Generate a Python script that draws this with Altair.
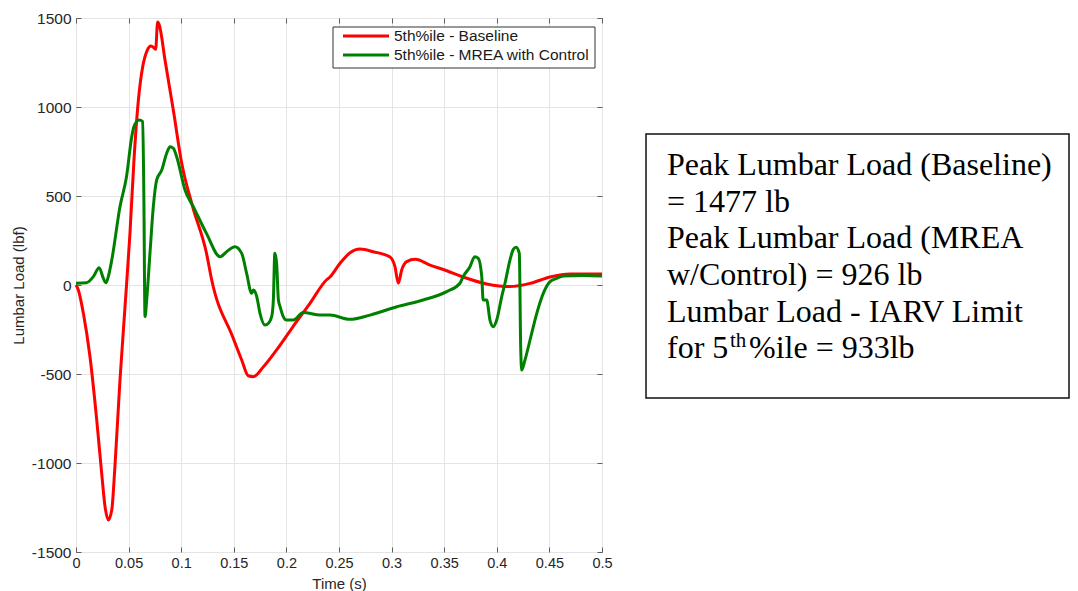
import altair as alt
import pandas as pd

# ---- data ----
base_t = [0, 0.0022, 0.007, 0.0133, 0.0197, 0.0244, 0.0276, 0.0307, 0.034, 0.037, 0.0418,
          0.0466, 0.0513, 0.0551, 0.0593, 0.0634, 0.0678, 0.0713, 0.0745, 0.0757, 0.0776,
          0.0792, 0.0846, 0.0925, 0.1005, 0.111, 0.124, 0.129, 0.149, 0.1575, 0.1637,
          0.1685, 0.178, 0.1907, 0.206, 0.2224, 0.238, 0.2414, 0.251, 0.2605, 0.27, 0.2826,
          0.2985, 0.3032, 0.3064, 0.3096, 0.3143, 0.3225, 0.3365, 0.3524, 0.368, 0.3904,
          0.4125, 0.4316, 0.4506, 0.4696, 0.5]
base_v = [0, -28, -159, -403, -758, -1057, -1245, -1320, -1264, -1020, -534,
          -122, 290, 702, 1039, 1226, 1320, 1343, 1330, 1324, 1477,
          1461, 1264, 983, 684, 438, 180, 28, -292, -421, -510,
          -515, -461, -365, -236, -103, 28, 45, 122, 181, 202, 187,
          157, 103, 10, 84, 131, 144, 112, 80, 45, 6,
          -9, 9, 45, 62, 62]

mrea_t = [0, 0.010, 0.0165, 0.022, 0.026, 0.0285, 0.0307, 0.034, 0.0418, 0.048, 0.053,
          0.0551, 0.060, 0.0634, 0.0645, 0.0656, 0.0672, 0.0703, 0.0735, 0.0767, 0.0815,
          0.0862, 0.0894, 0.0925, 0.0957, 0.1036, 0.1115, 0.124, 0.137, 0.1432, 0.151,
          0.1575, 0.1622, 0.167, 0.1686, 0.1718, 0.1749, 0.1797, 0.1829, 0.186, 0.1876,
          0.189, 0.1907, 0.1924, 0.194, 0.197, 0.200, 0.2066, 0.216, 0.232, 0.2415,
          0.2605, 0.2795, 0.305, 0.330, 0.3524, 0.365, 0.368, 0.3745, 0.379, 0.3824,
          0.3857, 0.387, 0.3904, 0.3935, 0.3967, 0.3999, 0.4047, 0.4078, 0.4125, 0.4157,
          0.4183, 0.4214, 0.4227, 0.4236, 0.4268, 0.4316, 0.438, 0.4442, 0.4506, 0.457,
          0.463, 0.4822, 0.5]
mrea_v = [10, 13, 47, 97, 37, 13, 47, 140, 440, 608, 833,
          890, 927, 918, 500, -178, -84, 178, 440, 590, 646,
          740, 777, 768, 721, 534, 440, 290, 159, 187, 215,
          178, 65, -47, -28, -65, -159, -225, -215, -178, -84,
          178, 122, -84, -122, -178, -197, -197, -154, -169, -169,
          -193, -169, -122, -84, -37, 10, 47, 103, 159, 150,
          47, -84, -84, -197, -234, -197, -65, 10, 140, 200,
          212, 178, -346, -478, -421, -309, -159, -47, 19, 37,
          51, 54, 51]

series_names = ["5th%ile - Baseline", "5th%ile - MREA with Control"]
series_colors = ["#ff0000", "#008000"]
x_ticks = [0, 0.05, 0.1, 0.15, 0.2, 0.25, 0.3, 0.35, 0.4, 0.45, 0.5]
y_ticks = [-1500, -1000, -500, 0, 500, 1000, 1500]
x_title = "Time (s)"
y_title = "Lumbar Load (lbf)"
note_lines = ["Peak Lumbar Load (Baseline)", "= 1477 lb", "Peak Lumbar Load (MREA",
              "w/Control) = 926 lb", "Lumbar Load - IARV Limit"]
note_last = ["for 5", "th", "%ile = 933lb"]

df = pd.concat([
    pd.DataFrame({"t": base_t, "v": base_v, "series": series_names[0]}),
    pd.DataFrame({"t": mrea_t, "v": mrea_v, "series": series_names[1]}),
], ignore_index=True)
one = pd.DataFrame({"k": [0]})

W, H = 526, 534
AX = "#5f5f5f"
LBL = "#262626"
SANS = "Liberation Sans"
SERIF = "Liberation Serif"

xs = alt.Scale(domain=[0, 0.5], nice=False, zero=False)
ys = alt.Scale(domain=[-1500, 1500], nice=False, zero=False)


def tick_axis(orient, vals):
    return alt.Axis(orient=orient, values=vals, offset=-5, tickSize=5, tickColor=AX,
                    tickWidth=1, labels=False, domain=False, grid=False, title="")


ticks_bl = alt.Chart(df).mark_line(strokeOpacity=0).encode(
    x=alt.X("t:Q", scale=xs, axis=tick_axis("bottom", x_ticks)),
    y=alt.Y("v:Q", scale=ys, axis=tick_axis("left", y_ticks)),
    detail="series:N",
)
ticks_tr = alt.Chart(df).mark_line(strokeOpacity=0).encode(
    x=alt.X("t:Q", scale=xs, axis=tick_axis("top", x_ticks)),
    y=alt.Y("v:Q", scale=ys, axis=tick_axis("right", y_ticks)),
    detail="series:N",
)

lines = alt.Chart(df).mark_line(strokeWidth=3, interpolate="monotone").encode(
    x=alt.X("t:Q", scale=xs, axis=alt.Axis(
        orient="bottom", values=x_ticks, ticks=False, tickSize=0, domain=False,
        grid=True, gridColor="#e4e4e4", gridWidth=1,
        labelExpr="toString(datum.value)", labelPadding=4, labelFlush=False,
        labelOverlap=False, labelFontSize=14.5, labelColor=LBL, labelFont=SANS,
        title=x_title, titleY=36, titleBaseline="alphabetic", titleFontSize=15,
        titleFontWeight="normal", titleColor=LBL, titleFont=SANS)),
    y=alt.Y("v:Q", scale=ys, axis=alt.Axis(
        orient="left", values=y_ticks, ticks=False, tickSize=0, domain=False,
        grid=True, gridColor="#e4e4e4", gridWidth=1,
        labelExpr="toString(datum.value)", labelPadding=5, labelFlush=False,
        labelOverlap=False, labelFontSize=15.5, labelColor=LBL, labelFont=SANS,
        title=y_title, titleX=-58, titleY=H / 2, titleAngle=270,
        titleBaseline="middle", titleFontSize=15, titleFontWeight="normal",
        titleColor=LBL, titleFont=SANS)),
    color=alt.Color("series:N", scale=alt.Scale(domain=series_names, range=series_colors),
                    legend=None),
)

layers = [ticks_bl, ticks_tr, lines]

# legend box
layers.append(alt.Chart(one).mark_rect(fill="white", stroke="#333333", strokeWidth=1).encode(
    x=alt.value(257), x2=alt.value(519), y=alt.value(9), y2=alt.value(50)))
for i, (name, col) in enumerate(zip(series_names, series_colors)):
    yy = 18 + i * 19
    layers.append(alt.Chart(one).mark_rule(color=col, strokeWidth=3).encode(
        x=alt.value(267), x2=alt.value(313), y=alt.value(yy)))
    layers.append(alt.Chart(one).mark_text(
        text=name, font=SANS, fontSize=15.5, align="left", baseline="middle", color="#1a1a1a"
    ).encode(x=alt.value(318), y=alt.value(yy)))

# note box
layers.append(alt.Chart(one).mark_rect(fill="white", stroke="#111111", strokeWidth=1.5).encode(
    x=alt.value(570), x2=alt.value(993), y=alt.value(116), y2=alt.value(380)))
layers.append(alt.Chart(one).mark_text(
    text=note_lines, font=SERIF, fontSize=32, align="left", baseline="alphabetic",
    lineHeight=36.7, color="black").encode(x=alt.value(591), y=alt.value(157)))
layers.append(alt.Chart(one).mark_text(
    text=note_last[0], font=SERIF, fontSize=32, align="left", baseline="alphabetic",
    color="black").encode(x=alt.value(591), y=alt.value(340)))
layers.append(alt.Chart(one).mark_text(
    text=note_last[1], font=SERIF, fontSize=21, align="left", baseline="alphabetic",
    color="black").encode(x=alt.value(654), y=alt.value(329)))
layers.append(alt.Chart(one).mark_text(
    text=note_last[2], font=SERIF, fontSize=32, align="left", baseline="alphabetic",
    color="black").encode(x=alt.value(673), y=alt.value(340)))

chart = alt.layer(*layers).resolve_axis(x="independent", y="independent").properties(
    width=W, height=H,
    padding={"left": 68, "top": 10, "right": 468, "bottom": 40},
    autosize=alt.AutoSizeParams(type="none"),
).configure(background="white").configure_view(stroke=AX, strokeWidth=1)

chart.save("out.html", embed_options={"renderer": "svg", "actions": False})
